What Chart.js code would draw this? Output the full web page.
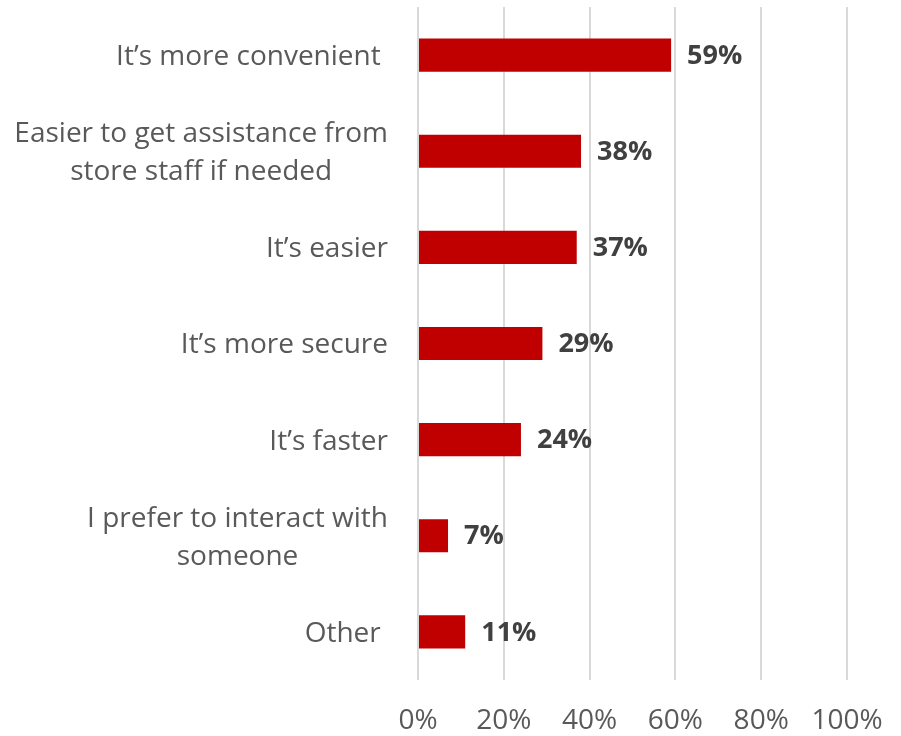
<!DOCTYPE html>
<html>
<head>
<meta charset="utf-8">
<script src="https://cdn.jsdelivr.net/npm/chart.js@4"></script>
<style>
  html, body { margin: 0; padding: 0; background: #fff; }
</style>
</head>
<body>
<canvas id="reasonsChart" width="901" height="736"></canvas>
<script>
// Reasons for preference, share of respondents (%)
const reasons = [
    "It\u2019s more convenient ",
    ["Easier to get assistance from", "store staff if needed"],
    "It\u2019s easier",
    "It\u2019s more secure",
    "It\u2019s faster",
    ["I prefer to interact with", "someone"],
    "Other "
];
const shares = [59, 38, 37, 29, 24, 7, 11];
const axisTicks = [0, 20, 40, 60, 80, 100];

const fontFamily = "'Open Sans', sans-serif";
const labelSize = 28;
const labelLine = 38;

// category labels: each block right-aligned to the axis, lines centred within it
const categoryLabels = {
    id: 'categoryLabels',
    afterDraw(chart) {
        const ctx = chart.ctx;
        const yScale = chart.scales.y;
        const right = yScale.right - 30;
        ctx.save();
        ctx.font = labelSize + "px " + fontFamily;
        ctx.fillStyle = '#595959';
        ctx.textAlign = 'center';
        ctx.textBaseline = 'middle';
        reasons.forEach((label, i) => {
            const lines = Array.isArray(label) ? label : [label];
            const width = Math.max(...lines.map(l => ctx.measureText(l).width));
            const cx = right - width / 2;
            const cy = yScale.getPixelForTick(i) + 2;
            const top = cy - (lines.length - 1) * labelLine / 2;
            lines.forEach((l, j) => ctx.fillText(l, cx, top + j * labelLine));
        });
        ctx.restore();
    }
};

// draws the bold percentage just past the end of each bar
const valueLabels = {
    id: 'valueLabels',
    afterDatasetsDraw(chart) {
        const ctx = chart.ctx;
        const meta = chart.getDatasetMeta(0);
        ctx.save();
        ctx.font = "bold 27px " + fontFamily;
        ctx.fillStyle = '#404040';
        ctx.textAlign = 'left';
        ctx.textBaseline = 'middle';
        meta.data.forEach((bar, i) => {
            ctx.fillText(shares[i] + '%', bar.x + 16, bar.y + 1);
        });
        ctx.restore();
    }
};

const ctx = document.getElementById('reasonsChart').getContext('2d');
new Chart(ctx, {
    type: 'bar',
    data: {
        labels: reasons,
        datasets: [{
            data: shares,
            backgroundColor: '#C00000',
            borderWidth: 0,
            categoryPercentage: 1,
            barPercentage: 0.345
        }]
    },
    options: {
        indexAxis: 'y',
        responsive: false,
        animation: false,
        layout: { padding: { top: 7, right: 54, bottom: 0, left: 0 } },
        plugins: {
            legend: { display: false },
            tooltip: { enabled: false }
        },
        scales: {
            x: {
                min: 0,
                max: 100,
                afterBuildTicks(scale) {
                    scale.ticks = axisTicks.map(v => ({ value: v }));
                },
                afterFit(scale) {
                    scale.height = 56;
                    scale.paddingLeft = 0;
                    scale.paddingRight = 0;
                },
                border: { display: false },
                grid: { color: '#d9d9d9', lineWidth: 2, drawTicks: false },
                ticks: {
                    padding: 24,
                    color: '#595959',
                    font: { family: fontFamily, size: 28 },
                    callback: v => v + '%'
                }
            },
            y: {
                afterFit(scale) {
                    scale.width = 418;
                    scale.paddingTop = 0;
                    scale.paddingBottom = 0;
                },
                border: { display: false },
                grid: { display: false, drawTicks: false },
                ticks: { display: false }
            }
        }
    },
    plugins: [valueLabels, categoryLabels]
});
</script>
</body>
</html>
